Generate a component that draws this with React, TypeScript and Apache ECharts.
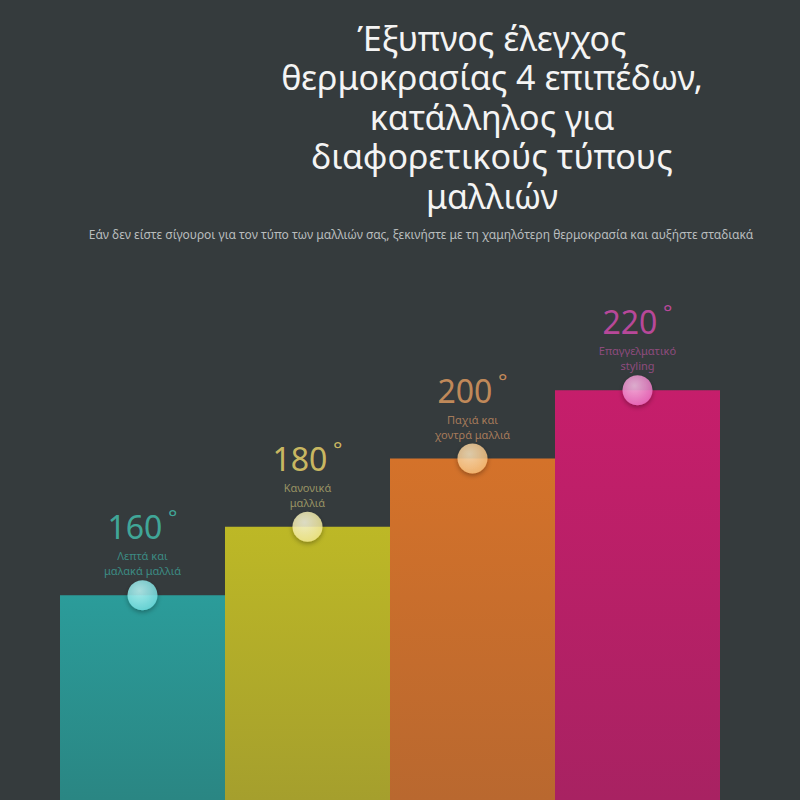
import React, { useEffect, useRef } from "react";
import * as echarts from "echarts";

const titleLines = [
  "Έξυπνος έλεγχος",
  "θερμοκρασίας 4 επιπέδων,",
  "κατάλληλος για",
  "διαφορετικούς τύπους",
  "μαλλιών",
];
const subtitle =
  "Εάν δεν είστε σίγουροι για τον τύπο των μαλλιών σας, ξεκινήστε με τη χαμηλότερη θερμοκρασία και αυξήστε σταδιακά";
const categories = ["Λεπτά", "Κανονικά", "Παχιά", "Επαγγελματικό"];
const temps = [160, 180, 200, 220];
const descLine1 = ["Λεπτά και", "Κανονικά", "Παχιά και", "Επαγγελματικό"];
const descLine2 = ["μαλακά μαλλιά", "μαλλιά", "χοντρά μαλλιά", "styling"];
const barTop = ["#2b9c9a", "#bdb826", "#d4722a", "#c61e6b"];
const barBottom = ["#2a8683", "#a59f2d", "#b9682f", "#a82262"];
const numColors = ["#44c4b2", "#f2da6c", "#e8a062", "#dc4cb4"];
const descColors = ["#3ea197", "#b3aa6e", "#c48c62", "#a5508f"];
const dotLight = ["#c0ffff", "#fffde0", "#ffe8c0", "#ffc4ec"];
const dotDark = ["#70e0e2", "#f6ec90", "#fcc078", "#f070c4"];

export default function App() {
  const ref = useRef<HTMLDivElement>(null);
  useEffect(() => {
    document.body.style.margin = "0";
    const chart = echarts.init(ref.current!, undefined, { renderer: "svg" });
    const font = "'Noto Sans', 'Open Sans', sans-serif";
    chart.setOption({
      animation: false,
      backgroundColor: "#353b3d",
      title: [
        {
          text: titleLines.join("\n"),
          left: 492,
          top: 18,
          textAlign: "center",
          padding: 0,
          textStyle: {
            color: "#f4f4f4",
            fontSize: 34,
            lineHeight: 39.5,
            fontWeight: "normal",
            fontFamily: font,
          },
        },
        {
          text: subtitle,
          left: 421,
          top: 228,
          textAlign: "center",
          padding: 0,
          textStyle: {
            color: "#b9bdbd",
            fontSize: 12,
            fontWeight: "normal",
            fontFamily: font,
          },
        },
      ],
      grid: { left: 60, right: 80, top: 322, bottom: 0 },
      xAxis: {
        type: "category",
        data: categories,
        show: false,
      },
      yAxis: { type: "value", min: 100, max: 240, show: false },
      series: [
        {
          type: "bar",
          barCategoryGap: "0%",
          data: temps.map((v, i) => ({
            value: v,
            itemStyle: {
              color: new echarts.graphic.LinearGradient(0, 0, 0, 1, [
                { offset: 0, color: barTop[i] },
                { offset: 1, color: barBottom[i] },
              ]),
            },
          })),
        },
        {
          type: "scatter",
          symbolSize: 30,
          z: 5,
          data: temps.map((v, i) => ({
            value: v,
            itemStyle: {
              color: new echarts.graphic.RadialGradient(0.4, 0.35, 0.7, [
                { offset: 0, color: dotLight[i] },
                { offset: 1, color: dotDark[i] },
              ]),
              shadowBlur: 5,
              shadowOffsetY: 2,
              shadowColor: "rgba(0,0,0,0.4)",
            },
            label: {
              show: true,
              position: "top",
              distance: 2,
              formatter: `{n|${v}}{d| °}\n{s|${descLine1[i]}}\n{s|${descLine2[i]}}`,
              rich: {
                n: {
                  fontSize: 32,
                  fontWeight: "normal",
                  lineHeight: 43,
                  color: numColors[i],
                  fontFamily: font,
                },
                d: {
                  fontSize: 22,
                  lineHeight: 30,
                  verticalAlign: "top",
                  color: numColors[i],
                  fontFamily: font,
                },
                s: {
                  fontSize: 11,
                  lineHeight: 15,
                  color: descColors[i],
                  fontFamily: font,
                },
              },
            },
          })),
        },
      ],
    });
    return () => chart.dispose();
  }, []);
  return <div ref={ref} style={{ width: 800, height: 800 }} />;
}
